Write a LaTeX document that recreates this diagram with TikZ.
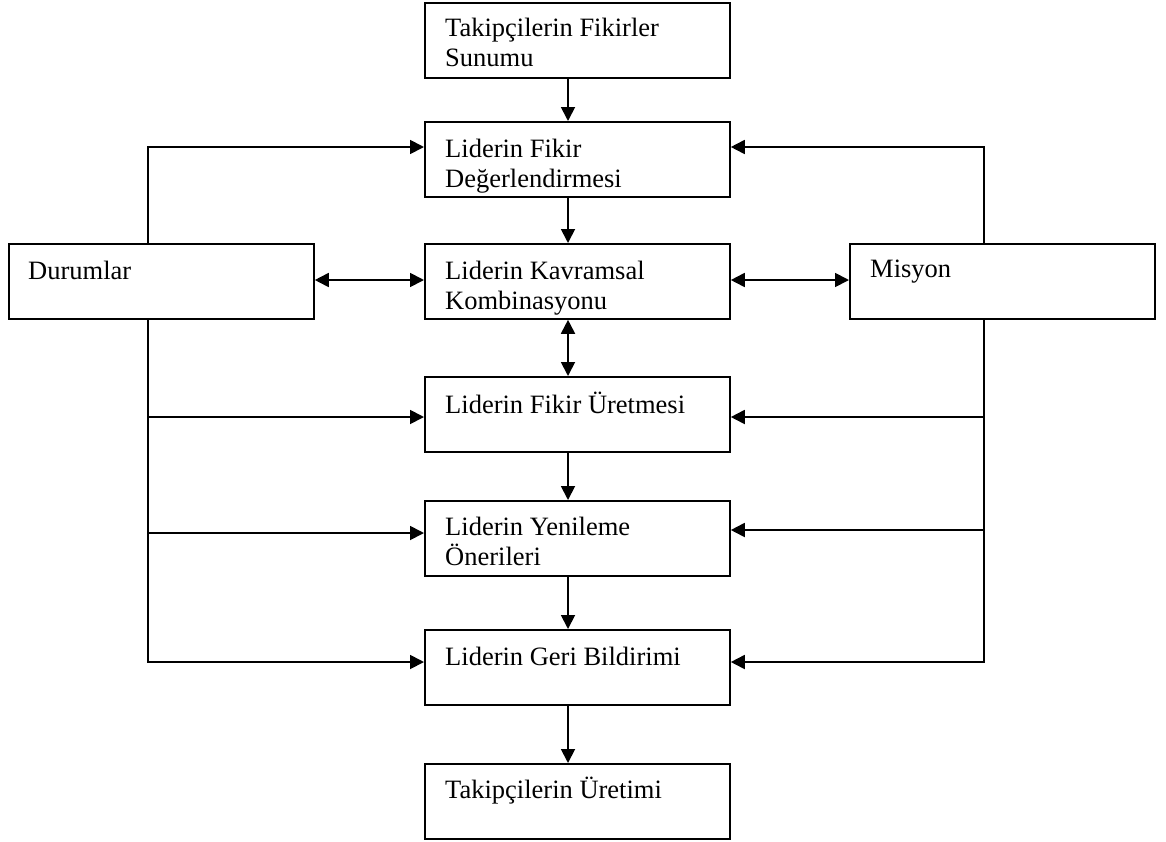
\documentclass[tikz,border=0pt]{standalone}
\usepackage{fontspec}
\setmainfont{Liberation Serif}
\usetikzlibrary{arrows.meta}
\begin{document}
\begin{tikzpicture}[x=1pt,y=-1pt,
  box/.style={draw,line width=1.8pt,minimum width=305pt,minimum height=75pt,anchor=north west,inner sep=0pt},
  sidebox/.style={box,minimum width=305pt},
  lbl/.style={anchor=base west,align=left,inner sep=0pt,font=\fontsize{26.5}{30.5}\selectfont},
  con/.style={line width=1.8pt},
  arr/.style={con,-{Triangle[length=14pt,width=14pt]}},
  darr/.style={con,{Triangle[length=14pt,width=14pt]}-{Triangle[length=14pt,width=14pt]}}]
\useasboundingbox (0,0) rectangle (1166,841);
% boxes
\node[box] (b1) at (424,2) {};
\node[box] (b2) at (424,121) {};
\node[box] (b3) at (424,243) {};
\node[box] (b4) at (424,376) {};
\node[box] (b5) at (424,500) {};
\node[box] (b6) at (424,629) {};
\node[box] (b7) at (424,763) {};
\node[sidebox] (d) at (8,243) {};
\node[sidebox] (m) at (849,243) {};
% labels (anchored at the baseline of their last line)
\node[lbl] (t1) at (445,36+30.5) {Takipçilerin Fikirler\\Sunumu};
\node[lbl] (t2) at (445,157+30.5) {Liderin Fikir\\Değerlendirmesi};
\node[lbl] (t3) at (445,279+30.5) {Liderin Kavramsal\\Kombinasyonu};
\node[lbl] (t4) at (445,413) {Liderin Fikir Üretmesi};
\node[lbl] (t5) at (445,535+30.5) {Liderin Yenileme\\Önerileri};
\node[lbl] (t6) at (445,665) {Liderin Geri Bildirimi};
\node[lbl] (t7) at (445,798) {Takipçilerin Üretimi};
\node[lbl] (td) at (28,279) {Durumlar};
\node[lbl] (tm) at (870,277) {Misyon};
% helper coordinates
\coordinate (cx) at (568,0);
\coordinate (lx) at (148,0);
\coordinate (rx) at (984,0);
\coordinate (y2) at (0,147);
\coordinate (y3) at (0,280);
\coordinate (y4) at (0,417);
\coordinate (y5l) at (0,533);
\coordinate (y5r) at (0,530);
\coordinate (y6) at (0,662);
% center column
\draw[arr] (b1.south -| cx) -- (b2.north -| cx);
\draw[arr] (b2.south -| cx) -- (b3.north -| cx);
\draw[darr] (b3.south -| cx) -- (b4.north -| cx);
\draw[arr] (b4.south -| cx) -- (b5.north -| cx);
\draw[arr] (b5.south -| cx) -- (b6.north -| cx);
\draw[arr] (b6.south -| cx) -- (b7.north -| cx);
% side double arrows
\draw[darr] (d.east |- y3) -- (b3.west |- y3);
\draw[darr] (b3.east |- y3) -- (m.west |- y3);
% left side
\draw[arr] (d.north -| lx) -- (lx |- y2) -- (b2.west |- y2);
\draw[arr] (d.south -| lx) -- (lx |- y6) -- (b6.west |- y6);
\draw[arr] (lx |- y4) -- (b4.west |- y4);
\draw[arr] (lx |- y5l) -- (b5.west |- y5l);
% right side
\draw[arr] (m.north -| rx) -- (rx |- y2) -- (b2.east |- y2);
\draw[arr] (m.south -| rx) -- (rx |- y6) -- (b6.east |- y6);
\draw[arr] (rx |- y4) -- (b4.east |- y4);
\draw[arr] (rx |- y5r) -- (b5.east |- y5r);
\end{tikzpicture}
\end{document}
